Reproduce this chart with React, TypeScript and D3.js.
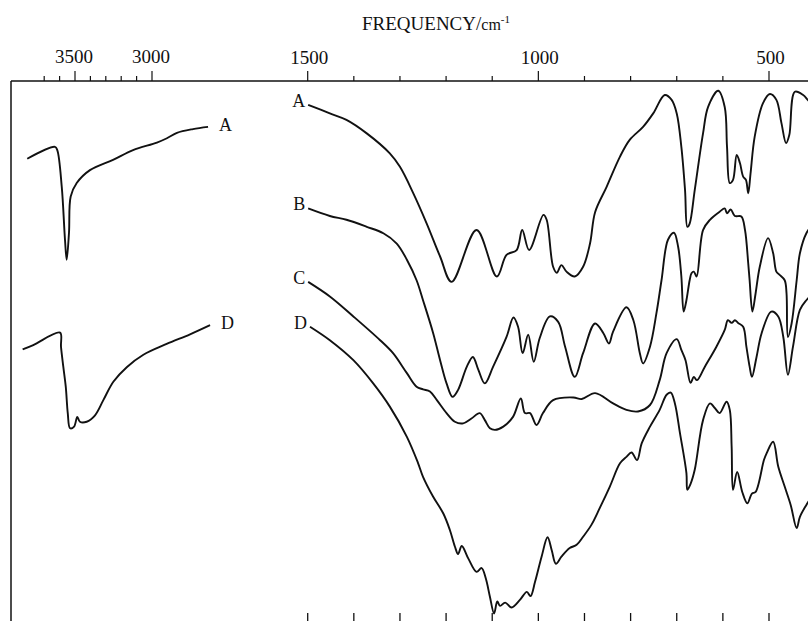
import React from "react";
import * as d3 from "d3";

// ---- Data (frequency cm^-1, transmittance % arbitrary) ----
const leftTicks = [3700, 3600, 3500, 3400, 3300, 3200, 3100, 3000];
const leftTickLabels = [3500, 3000];
const rightTicks = [1500, 1400, 1300, 1200, 1100, 1000, 900, 800, 700, 600, 500];
const rightTickLabels = [1500, 1000, 500];
const bottomTicks = [1500, 1400, 1300, 1200, 1100, 1000, 900, 800, 700, 600, 500];

const ohA: [number, number][] = [
  [3810, 85.6], [3630, 87.8], [3615, 87.2], [3586, 80.4], [3565, 70.6], [3554, 66.9],
  [3539, 71.9], [3528, 78.6], [3489, 81.1], [3403, 83.5], [3253, 85.4], [3123, 87.2],
  [2968, 88.6], [2903, 89.4], [2838, 90.4], [2734, 91.1], [2636, 91.5],
];
const ohD: [number, number][] = [
  [3840, 50.3], [3771, 51.1], [3597, 53.4], [3591, 50.8], [3576, 47.1], [3560, 43.4],
  [3547, 38.5], [3532, 35.7], [3506, 36.0], [3485, 37.8], [3468, 36.9], [3424, 36.9],
  [3370, 38.1], [3316, 40.9], [3251, 44.3], [3164, 47.0], [3056, 49.3], [2905, 51.3],
  [2753, 53.1], [2623, 54.8],
];

const specA: [number, number][] = [
  [1499, 95.6], [1452, 94.0], [1416, 92.8], [1372, 90.3], [1322, 86.6], [1300, 84.1],
  [1271, 79.2], [1242, 73.6], [1213, 67.5], [1188, 62.8], [1134, 72.4], [1090, 63.8],
  [1069, 67.8], [1047, 68.7], [1035, 72.4], [1020, 68.7], [989, 75.2], [982, 74.3],
  [968, 65.6], [960, 64.5], [950, 65.9], [939, 64.7], [921, 63.8], [903, 65.6],
  [888, 69.9], [877, 75.7], [852, 80.4], [823, 86.0], [802, 89.1], [773, 91.5],
  [751, 94.0], [726, 97.4], [711, 96.5], [700, 94.0], [690, 87.8], [682, 79.8],
  [677, 73.0], [672, 73.6], [661, 79.8], [643, 90.3], [632, 95.2], [610, 98.2],
  [596, 95.2], [591, 87.8], [585, 81.1], [578, 81.7], [570, 86.3], [563, 84.8],
  [556, 82.3], [550, 81.7], [545, 79.2], [540, 82.9], [531, 89.7], [513, 95.9],
  [498, 97.6], [484, 96.5], [473, 92.2], [463, 88.5], [456, 90.0], [444, 98.0],
  [426, 97.4], [416, 96.5], [400, 95.0],
];
const specB: [number, number][] = [
  [1499, 76.4], [1452, 75.0], [1416, 74.3], [1372, 73.0], [1336, 71.8], [1307, 69.9],
  [1285, 66.9], [1264, 63.1], [1250, 59.4], [1228, 53.3], [1213, 48.3], [1199, 44.0],
  [1186, 41.5], [1174, 42.8], [1155, 47.1], [1142, 48.9], [1130, 46.5], [1116, 44.0],
  [1098, 47.1], [1069, 52.6], [1054, 56.2], [1044, 54.5], [1034, 49.6], [1022, 53.0],
  [1010, 48.0], [997, 52.4], [975, 56.4], [957, 55.4], [942, 50.8], [921, 45.2],
  [903, 49.6], [877, 55.1], [859, 53.3], [847, 51.4], [838, 53.6], [809, 58.1],
  [794, 55.7], [780, 49.6], [773, 47.7], [758, 50.8], [744, 57.0], [733, 63.1],
  [719, 70.6], [706, 71.9], [697, 69.3], [690, 63.8], [685, 57.3], [679, 59.4],
  [672, 63.1], [668, 64.4], [663, 64.7], [657, 63.8], [643, 72.4], [628, 74.3],
  [607, 75.8], [596, 76.4], [591, 75.5], [583, 76.2], [574, 75.0], [560, 74.9],
  [552, 72.4], [545, 66.2], [542, 63.1], [536, 57.3], [529, 60.7], [520, 65.6],
  [502, 70.9], [491, 68.1], [484, 64.7], [477, 64.1], [466, 63.1], [462, 60.7],
  [459, 52.6], [451, 55.1], [440, 63.1], [433, 68.1], [419, 71.8], [400, 74.0],
];
const specC: [number, number][] = [
  [1499, 62.8], [1452, 60.1], [1401, 56.4], [1343, 52.0], [1315, 49.6], [1285, 45.9],
  [1264, 43.4], [1250, 42.9], [1235, 42.5], [1220, 40.9], [1199, 38.5], [1181, 36.9],
  [1163, 36.6], [1145, 37.5], [1127, 38.5], [1116, 37.2], [1105, 35.7], [1094, 35.4],
  [1076, 36.0], [1055, 37.8], [1038, 41.2], [1029, 38.5], [1018, 38.5], [1004, 36.3],
  [990, 38.5], [968, 40.9], [924, 41.4], [906, 41.1], [877, 42.2], [838, 40.3],
  [809, 39.1], [784, 38.8], [758, 40.0], [737, 44.6], [722, 49.6], [700, 52.2],
  [690, 50.2], [681, 48.3], [670, 44.1], [663, 45.2], [656, 44.6], [639, 47.1],
  [614, 50.8], [596, 53.9], [589, 55.7], [581, 55.2], [574, 55.7], [567, 55.2],
  [556, 54.5], [549, 50.8], [542, 47.1], [537, 45.2], [527, 48.9], [516, 53.3],
  [495, 57.3], [480, 56.4], [469, 52.6], [459, 45.6], [448, 50.8], [433, 57.6],
  [419, 59.4], [400, 61.0],
];
const specD: [number, number][] = [
  [1495, 54.5], [1452, 52.0], [1401, 48.3], [1358, 44.0], [1322, 39.7], [1285, 34.1],
  [1261, 29.3], [1250, 26.7], [1228, 23.0], [1206, 19.9], [1192, 16.9], [1181, 13.8],
  [1174, 12.4], [1166, 13.9], [1152, 11.6], [1134, 9.1], [1123, 9.8], [1114, 7.9],
  [1105, 4.5], [1096, 1.4], [1089, 3.6], [1083, 2.8], [1072, 3.4], [1058, 2.5],
  [1040, 3.9], [1025, 5.4], [1017, 4.6], [1007, 7.3], [993, 11.9], [980, 15.5],
  [971, 13.1], [962, 10.6], [950, 11.9], [932, 13.5], [917, 14.1], [903, 15.6],
  [885, 17.8], [867, 20.9], [845, 24.9], [823, 29.2], [809, 30.4], [798, 31.2],
  [786, 29.8], [776, 32.9], [758, 36.0], [737, 39.1], [722, 41.9], [713, 42.3],
  [704, 40.3], [693, 34.8], [679, 27.4], [677, 24.3], [670, 25.4], [661, 28.0],
  [643, 37.2], [628, 40.3], [617, 39.4], [607, 38.5], [592, 40.6], [585, 39.1],
  [581, 32.3], [578, 24.3], [569, 27.6], [558, 23.9], [547, 21.8], [537, 23.6],
  [529, 23.9], [511, 29.8], [505, 31.1], [491, 33.2], [480, 28.6], [466, 24.9],
  [453, 21.5], [440, 17.2], [433, 19.3], [419, 21.5], [400, 24.0],
];

const leftLabels = ["A", "D"];
const rightLabels = ["A", "B", "C", "D"];

export default function App() {
  const W = 808;
  const H = 621;
  const xL = d3.scaleLinear().domain([3500, 3000]).range([75, 152]);
  const xR = d3.scaleLinear().domain([1500, 500]).range([307.7, 769]);
  const y = d3.scaleLinear().domain([0, 100]).range([621, 81]);
  const axisY = 81;

  const lineL = d3
    .line<[number, number]>()
    .x((d) => xL(d[0]))
    .y((d) => y(d[1]))
    .curve(d3.curveCatmullRom.alpha(0.5));
  const lineR = d3
    .line<[number, number]>()
    .x((d) => xR(d[0]))
    .y((d) => y(d[1]))
    .curve(d3.curveCatmullRom.alpha(0.5));

  const serif = "'Liberation Serif', 'DejaVu Serif', serif";
  const ink = "#111";

  // label anchors derived from curve starts/ends
  const leftCurves = [ohA, ohD];
  const rightCurves = [specA, specB, specC, specD];

  return (
    <svg
      width={W}
      height={H}
      style={{ position: "absolute", left: 0, top: 0, background: "#fff" }}
    >
      <rect x={0} y={0} width={W} height={H} fill="#fff" />
      {/* title */}
      <text x={436} y={30} textAnchor="middle" fontFamily={serif} fontSize={19} fill={ink}>
        FREQUENCY/
        <tspan fontSize={16}>cm</tspan>
        <tspan fontSize={11} dy={-7}>-1</tspan>
      </text>

      {/* frame */}
      <line x1={11} y1={axisY} x2={W} y2={axisY} stroke={ink} strokeWidth={1.3} />
      <line x1={11} y1={axisY} x2={11} y2={H} stroke={ink} strokeWidth={1.5} />

      {/* top ticks */}
      {leftTicks.map((t) => (
        <line
          key={"lt" + t}
          x1={xL(t)}
          x2={xL(t)}
          y1={axisY}
          y2={axisY - (leftTickLabels.includes(t) ? 10 : 5)}
          stroke={ink}
          strokeWidth={1.2}
        />
      ))}
      {rightTicks.map((t) => (
        <line
          key={"rt" + t}
          x1={xR(t)}
          x2={xR(t)}
          y1={axisY}
          y2={axisY - (rightTickLabels.includes(t) ? 10 : 5)}
          stroke={ink}
          strokeWidth={1.2}
        />
      ))}
      {leftTickLabels.map((t) => (
        <text key={"ll" + t} x={xL(t) - 1} y={63} textAnchor="middle" fontFamily={serif} fontSize={19} fill={ink}>
          {t}
        </text>
      ))}
      {rightTickLabels.map((t) => (
        <text key={"rl" + t} x={xR(t) + 1.5} y={64} textAnchor="middle" fontFamily={serif} fontSize={19} fill={ink}>
          {t}
        </text>
      ))}

      {/* bottom ticks */}
      {bottomTicks.map((t) => (
        <line key={"bt" + t} x1={xR(t)} x2={xR(t)} y1={613} y2={H} stroke={ink} strokeWidth={1.3} />
      ))}

      {/* left panel curves */}
      {leftCurves.map((c, i) => (
        <g key={"lc" + i}>
          <path d={lineL(c) || ""} fill="none" stroke={ink} strokeWidth={1.9} strokeLinejoin="round" />
          <text
            x={xL(c[c.length - 1][0]) + 11}
            y={y(c[c.length - 1][1]) + 4}
            fontFamily={serif}
            fontSize={18}
            fill={ink}
          >
            {leftLabels[i]}
          </text>
        </g>
      ))}

      {/* right panel curves */}
      {rightCurves.map((c, i) => (
        <g key={"rc" + i}>
          <path d={lineR(c) || ""} fill="none" stroke={ink} strokeWidth={1.9} strokeLinejoin="round" />
          <text
            x={xR(c[0][0]) - 3}
            y={y(c[0][1]) + 2}
            textAnchor="end"
            fontFamily={serif}
            fontSize={18}
            fill={ink}
          >
            {rightLabels[i]}
          </text>
        </g>
      ))}
    </svg>
  );
}
